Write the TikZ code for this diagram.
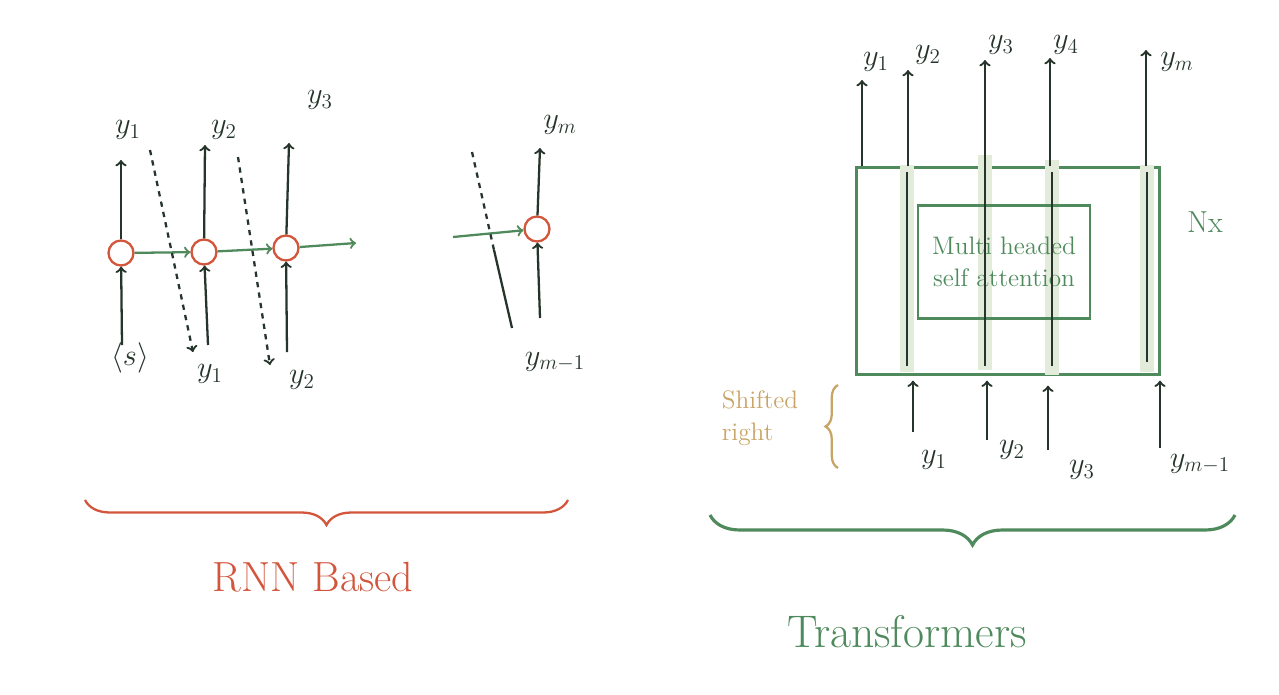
\documentclass[tikz,border=0pt]{standalone}
\usepackage{amsmath}
\usepackage{amssymb}
\usepackage{tikz}
\usetikzlibrary{decorations.pathreplacing}
\definecolor{rnnred}{HTML}{D2553C}
\definecolor{pengreen}{HTML}{4E8A5C}
\definecolor{inkdark}{HTML}{26352B}
\definecolor{hlgreen}{HTML}{E3EBDA}
\definecolor{shiftcol}{HTML}{C9A467}

\begin{document}
\begin{tikzpicture}[x=0.02cm, y=-0.02cm, line width=1.3pt,
    cell/.style={circle, draw=rnnred, minimum size=0.5cm, inner sep=0pt},
    ink/.style={->, inkdark},
    flow/.style={->, pengreen},
    lab/.style={inner sep=1pt, font=\LARGE, inkdark}]
    \useasboundingbox (0,0) rectangle (1279,694);

    % RNN based decoder
    \node[cell] (c1) at (121,253) {};
    \node[cell] (c2) at (204,252) {};
    \node[cell] (c3) at (286,248) {};
    \node[cell] (cm) at (537,229) {};

    \coordinate (o1) at (121,160);
    \coordinate (o2) at (205,145);
    \coordinate (o3) at (289,143);
    \coordinate (om) at (540,148);
    \coordinate (i1) at (122,345);
    \coordinate (i2) at (208,345);
    \coordinate (i3) at (287,352);
    \coordinate (im) at (540,318);
    \coordinate (h3) at (356,243);
    \coordinate (hm) at (453,237);

    \draw[ink] (c1) -- (o1);
    \draw[ink] (c2) -- (o2);
    \draw[ink] (c3) -- (o3);
    \draw[ink] (cm) -- (om);
    \draw[ink] (i1) -- (c1);
    \draw[ink] (i2) -- (c2);
    \draw[ink] (i3) -- (c3);
    \draw[ink] (im) -- (cm);

    \draw[flow] (c1) -- (c2);
    \draw[flow] (c2) -- (c3);
    \draw[flow] (c3) -- (h3);
    \draw[flow] (hm) -- (cm);

    \node[lab] (ya1) at (128,130) {$y_1$};
    \node[lab] (ya2) at (224,130) {$y_2$};
    \node[lab] (ya3) at (320,100) {$y_3$};
    \node[lab] (yam) at (560,125) {$y_m$};
    \node[lab] (sos) at (130,358) {$\langle s\rangle$};
    \node[lab] (yb1) at (210,374) {$y_1$};
    \node[lab] (yb2) at (302,380) {$y_2$};
    \node[lab] (ybm) at (555,362) {$y_{m-1}$};

    % feeding the outputs back
    \coordinate (d1) at (150,150);
    \coordinate (e1) at (193,352);
    \coordinate (d2) at (238,157);
    \coordinate (e2) at (270,365);
    \coordinate (d3) at (472,152);
    \coordinate (k3) at (494,250);
    \coordinate (e3) at (512,328);
    \draw[ink, dashed] (d1) -- (e1);
    \draw[ink, dashed] (d2) -- (e2);
    \draw[inkdark, dashed] (d3) -- (k3);
    \draw[inkdark] (k3) -- (e3);

    \draw[rnnred, decorate, decoration={brace, mirror, amplitude=0.5cm}]
        (85,500) -- (568,500);
    \node[rnnred, font=\fontsize{24}{28}\selectfont] (rnn) at (313,577) {RNN Based};

    % Transformer decoder
    \node[draw=pengreen, minimum width=6.06cm, minimum height=4.14cm] (outer) at (1008,271) {};
    \foreach \x/\a/\b in {907/165/372, 985/155/370, 1052/160/375, 1147/165/372}
        \draw[hlgreen, line width=8.5pt] (\x,\a) -- (\x,\b);
    \node[draw=pengreen, fill=white, fill opacity=0, minimum width=3.44cm, minimum height=2.26cm,
        text=pengreen, font=\Large, align=center, text opacity=1] (mhsa) at (1004,262)
        {Multi headed\\self attention};
    \foreach \x/\a/\b in {907/172/366, 985/166/366, 1052/172/366, 1147/172/362}
        \draw[inkdark] (\x,\a) -- (\x,\b);
    \node[pengreen, font=\LARGE] (nx) at (1205,222) {Nx};

    \coordinate (t1) at (862,80);
    \coordinate (t2) at (908,70);
    \coordinate (t3) at (985,60);
    \coordinate (t4) at (1050,58);
    \coordinate (tm) at (1146,50);
    \draw[ink] (outer.north -| t1) -- (t1);
    \draw[ink] (outer.north -| t2) -- (t2);
    \draw[ink] (outer.north -| t3) -- (t3);
    \draw[ink] (outer.north -| t4) -- (t4);
    \draw[ink] (outer.north -| tm) -- (tm);
    \node[lab] (yt1) at (876,62) {$y_1$};
    \node[lab] (yt2) at (928,55) {$y_2$};
    \node[lab] (yt3) at (1001,45) {$y_3$};
    \node[lab] (yt4) at (1066,45) {$y_4$};
    \node[lab] (ytm) at (1177,62) {$y_m$};

    \coordinate (s1) at (913,432);
    \coordinate (s2) at (987,440);
    \coordinate (s3) at (1048,450);
    \coordinate (sm) at (1160,448);
    \draw[ink] (s1) -- ([yshift=-0.1cm]outer.south -| s1);
    \draw[ink] (s2) -- ([yshift=-0.1cm]outer.south -| s2);
    \draw[ink] (s3) -- ([yshift=-0.2cm]outer.south -| s3);
    \draw[ink] (sm) -- ([yshift=-0.1cm]outer.south -| sm);
    \node[lab] (ys1) at (934,460) {$y_1$};
    \node[lab] (ys2) at (1012,450) {$y_2$};
    \node[lab] (ys3) at (1082,470) {$y_3$};
    \node[lab] (ysm) at (1200,464) {$y_{m-1}$};

    \draw[shiftcol, decorate, decoration={brace, amplitude=0.25cm}]
        (838,468) -- (838,385);
    \node[shiftcol, font=\Large, align=left] (shift) at (760,418) {Shifted\\right};

    \draw[pengreen, line width=1.8pt, decorate, decoration={brace, mirror, amplitude=0.6cm}]
        (710,515) -- (1235,515);
    \node[pengreen, font=\fontsize{26}{30}\selectfont] (trf) at (907,632) {Transformers};
\end{tikzpicture}
\end{document}
